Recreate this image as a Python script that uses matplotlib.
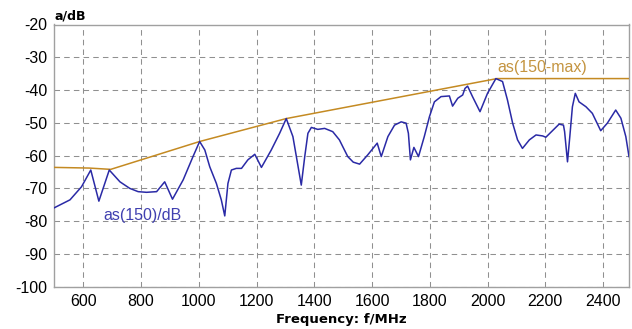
import matplotlib
matplotlib.use("Agg")
import matplotlib.pyplot as plt

# Attenuation curve as(150) in dB over frequency in MHz
freq_mhz = [500, 554, 594, 626, 654, 690, 727, 761, 790, 819, 854, 882, 909, 946,
            980, 1003, 1021, 1038, 1061, 1078, 1090, 1101, 1113, 1130, 1148, 1170,
            1194, 1217, 1251, 1280, 1303, 1326, 1338, 1355, 1367, 1378, 1390, 1412,
            1436, 1464, 1487, 1500, 1516, 1535, 1557, 1585, 1618, 1632, 1655, 1678,
            1701, 1718, 1726, 1733, 1745, 1761, 1781, 1799, 1816, 1839, 1868, 1879,
            1897, 1914, 1922, 1931, 1948, 1974, 2000, 2029, 2052, 2069, 2087, 2104,
            2121, 2145, 2168, 2191, 2202, 2225, 2248, 2263, 2267, 2277, 2285, 2294,
            2304, 2317, 2341, 2363, 2392, 2415, 2444, 2462, 2479, 2490]
as150_db = [-75.9, -73.5, -69.5, -64.4, -73.9, -64.4, -68.0, -70.0, -71.0, -71.2,
            -71.0, -68.0, -73.3, -67.4, -60.3, -55.7, -58.3, -63.4, -68.5, -73.5,
            -78.4, -68.5, -64.4, -63.9, -63.9, -61.3, -59.6, -63.6, -58.3, -53.2,
            -48.7, -54.2, -60.3, -69.0, -60.3, -53.2, -51.4, -52.0, -51.7, -52.7,
            -55.2, -57.5, -60.3, -62.0, -62.6, -59.8, -56.2, -60.3, -54.2, -50.7,
            -49.7, -50.1, -53.2, -61.3, -57.5, -60.3, -54.2, -48.1, -43.6, -42.0,
            -41.8, -44.9, -42.5, -41.5, -39.5, -38.8, -42.0, -46.6, -41.0, -36.5,
            -37.4, -43.0, -50.1, -55.2, -57.8, -55.2, -53.7, -54.0, -54.4, -52.4,
            -50.4, -50.7, -52.7, -61.9, -54.2, -45.1, -41.0, -43.6, -45.1, -47.1,
            -52.4, -50.1, -46.1, -48.6, -54.2, -60.3]

# Running maximum envelope as(150-max)
env_freq = [500, 620, 695, 1003, 1303, 2033, 2490]
env_db = [-63.6, -63.8, -64.2, -55.7, -48.7, -36.5, -36.5]

x_ticks = [600, 800, 1000, 1200, 1400, 1600, 1800, 2000, 2200, 2400]
y_ticks = [-20, -30, -40, -50, -60, -70, -80, -90, -100]

blue = "#2a2aa6"
gold = "#c48a22"
frame = "#a0a0a0"

plt.rcParams["font.family"] = ["Liberation Sans", "DejaVu Sans"]

fig = plt.figure(figsize=(6.32, 3.29), dpi=100)
ax = fig.add_axes([54.4 / 632, 1 - 286.7 / 329, (629 - 54.4) / 632, (286.7 - 24.5) / 329])

ax.plot(env_freq, env_db, color=gold, lw=1.1, solid_joinstyle="round", zorder=3)
ax.plot(freq_mhz, as150_db, color=blue, lw=1.1, solid_joinstyle="round", zorder=4)

ax.set_xlim(500, 2490)
ax.set_ylim(-100, -20)
ax.set_xticks(x_ticks)
ax.set_yticks(y_ticks)
ax.set_xticklabels([str(v) for v in x_ticks])
ax.set_yticklabels([str(v) for v in y_ticks])
ax.tick_params(length=0, labelsize=11.5, colors="#000000")
ax.tick_params(axis="y", pad=5)
ax.tick_params(axis="x", pad=5)

ax.grid(True, color="#909090", lw=0.75, linestyle=(0, (5.3, 4)))
for sp in ax.spines.values():
    sp.set_color(frame)
    sp.set_linewidth(1.0)

ax.text(669, -79.65, "as(150)/dB", color="#4040b0", fontsize=11.5,
        ha="left", va="baseline", zorder=5)
ax.text(2033, -34.4, "as(150-max)", color="#c49440", fontsize=11.5,
        ha="left", va="baseline", zorder=5)

fig.text(54.5 / 632, 1 - 19.5 / 329, "a/dB", fontsize=9, fontweight="bold",
         family="DejaVu Sans", ha="left", va="baseline")
fig.text(341.5 / 632, 1 - 322.5 / 329, "Frequency: f/MHz", fontsize=9.5,
         fontweight="bold", family="DejaVu Sans", ha="center", va="baseline")

fig.savefig("out.png", dpi=100, facecolor="white")
